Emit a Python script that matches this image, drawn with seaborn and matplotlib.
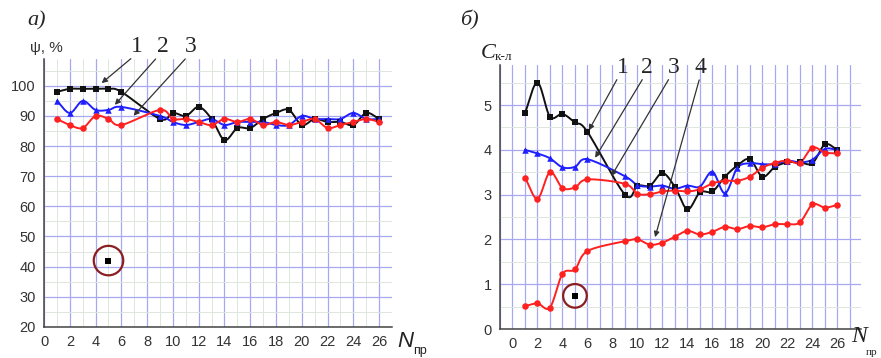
import matplotlib
matplotlib.use("Agg")
import matplotlib.pyplot as plt
import seaborn as sns
import numpy as np
from matplotlib.ticker import MultipleLocator

# ---- data (a): psi, % vs N ----
N_a = [1, 2, 3, 4, 5, 6, 9, 10, 11, 12, 13, 14, 15, 16, 17, 18, 19, 20, 21, 22, 23, 24, 25, 26]
psi_1 = [98, 99, 99, 99, 99, 98, 89, 91, 90, 93, 89, 82, 86, 86, 89, 91, 92, 87, 89, 88, 88, 87, 91, 89]
psi_2 = [95, 91, 95, 92, 92, 93, 90, 88, 87, 88, 89, 87, 88, 88, 88, 87, 87, 90, 89, 89, 89, 91, 89, 89]
psi_3 = [89, 87, 86, 90, 89, 87, 92, 89, 89, 88, 87, 89, 88, 89, 87, 88, 87, 88, 89, 86, 87, 88, 89, 88]
out_a = (5, 42)

# ---- data (b): C_k-l vs N ----
N_b = N_a
c_1 = [4.82, 5.50, 4.74, 4.80, 4.61, 4.40, 3.00, 3.20, 3.20, 3.48, 3.17, 2.67, 3.05, 3.07, 3.40, 3.65, 3.79, 3.40, 3.62, 3.72, 3.72, 3.70, 4.12, 4.00]
c_2 = [4.00, 3.92, 3.81, 3.61, 3.62, 3.79, 3.41, 3.21, 3.18, 3.20, 3.13, 3.20, 3.18, 3.51, 3.03, 3.60, 3.70, 3.68, 3.68, 3.76, 3.72, 3.78, 4.02, 4.00]
c_3 = [3.38, 2.91, 3.50, 3.15, 3.16, 3.34, 3.24, 3.02, 3.01, 3.07, 3.09, 3.07, 3.12, 3.25, 3.31, 3.31, 3.40, 3.60, 3.71, 3.76, 3.71, 4.05, 3.94, 3.92]
c_4 = [0.51, 0.57, 0.48, 1.23, 1.33, 1.74, 1.96, 2.00, 1.88, 1.93, 2.06, 2.19, 2.11, 2.17, 2.28, 2.23, 2.30, 2.27, 2.34, 2.34, 2.38, 2.78, 2.71, 2.77]
out_b = (5, 0.74)

BLACK, BLUE, RED = "#111111", "#1f1fff", "#ff2020"
MAJ, MINC = "#a8a8f2", "#dde6dd"


def smooth(x, y, n=14):
    # Catmull-Rom curve through the points, for the drawn line only
    p = np.column_stack([x, y]).astype(float)
    p = np.vstack([2 * p[0] - p[1], p, 2 * p[-1] - p[-2]])
    t = np.linspace(0, 1, n)[:, None]
    segs = []
    for i in range(1, len(p) - 2):
        p0, p1, p2, p3 = p[i - 1], p[i], p[i + 1], p[i + 2]
        c = 0.5 * ((2 * p1) + (-p0 + p2) * t + (2 * p0 - 5 * p1 + 4 * p2 - p3) * t ** 2
                   + (-p0 + 3 * p1 - 3 * p2 + p3) * t ** 3)
        segs.append(c)
    c = np.vstack(segs)
    return c[:, 0], c[:, 1]


def series(ax, x, y, color, marker, s=22):
    xs, ys = smooth(x, y)
    sns.lineplot(x=xs, y=ys, ax=ax, color=color, lw=1.4, sort=False, estimator=None)
    sns.scatterplot(x=x, y=y, ax=ax, color=color, marker=marker, s=s, linewidth=0, zorder=4)


def outlier(ax, pt, size):
    sns.scatterplot(x=[pt[0]], y=[pt[1]], ax=ax, color="black", marker="s", s=20, linewidth=0, zorder=5)
    ax.scatter([pt[0]], [pt[1]], s=size, facecolors="none", edgecolors="#8b1e1e", linewidths=1.6, zorder=5)


def style(ax):
    for sp in ["top", "right"]:
        ax.spines[sp].set_visible(False)
    for sp in ["left", "bottom"]:
        ax.spines[sp].set_color("#444444")
        ax.spines[sp].set_linewidth(1.1)
    ax.tick_params(which="major", direction="out", length=4, width=1, color="#444444",
                   labelsize=10.5, labelcolor="#333333", pad=2)
    ax.tick_params(which="minor", direction="out", length=2, width=0.8, color="#444444")
    ax.set_xlabel("")
    ax.set_ylabel("")
    ax.set_axisbelow(True)


sns.set_style("white")
plt.rcParams["font.family"] = ["Liberation Sans", "DejaVu Sans"]

fig = plt.figure(figsize=(8.81, 3.58), dpi=100)
ax1 = fig.add_axes([0.050, 0.087, 0.395, 0.749])
ax2 = fig.add_axes([0.5675, 0.081, 0.410, 0.737])

# ----- panel a -----
ax1.set_xlim(0, 27)
ax1.set_ylim(20, 109)
ax1.xaxis.set_major_locator(MultipleLocator(2))
ax1.xaxis.set_minor_locator(MultipleLocator(1))
ax1.yaxis.set_major_locator(MultipleLocator(10))
ax1.yaxis.set_minor_locator(MultipleLocator(5))
ax1.grid(which="minor", color=MINC, lw=0.7)
ax1.grid(which="major", color=MAJ, lw=0.9)
series(ax1, N_a, psi_1, BLACK, "s", s=18)
series(ax1, N_a, psi_2, BLUE, "^")
series(ax1, N_a, psi_3, RED, "o")
outlier(ax1, out_a, 450)
style(ax1)

for lab, lx, start, end in [("1", 7.2, (6.9, 109.6), (4.3, 100.3)),
                            ("2", 9.2, (8.8, 109.6), (5.35, 93.0)),
                            ("3", 11.4, (11.1, 109.6), (6.8, 89.4))]:
    ax1.text(lx, 109.6, lab, fontfamily="Liberation Serif", fontsize=17, ha="center", va="bottom", clip_on=False)
    ax1.annotate("", xy=end, xytext=start, annotation_clip=False,
                 arrowprops=dict(arrowstyle="-|>", color="#333333", lw=0.9, mutation_scale=8))

# ----- panel b -----
ax2.set_xlim(-1, 27.9)
ax2.set_ylim(0, 5.89)
ax2.xaxis.set_major_locator(MultipleLocator(2))
ax2.xaxis.set_minor_locator(MultipleLocator(1))
ax2.yaxis.set_major_locator(MultipleLocator(1))
ax2.yaxis.set_minor_locator(MultipleLocator(0.5))
ax2.grid(axis="y", which="minor", color=MINC, lw=0.7)
ax2.grid(axis="y", which="major", color=MAJ, lw=0.9)
ax2.grid(axis="x", which="both", color=MAJ, lw=0.9)
series(ax2, N_b, c_1, BLACK, "s", s=18)
series(ax2, N_b, c_2, BLUE, "^")
series(ax2, N_b, c_3, RED, "o")
series(ax2, N_b, c_4, RED, "o")
outlier(ax2, out_b, 290)
style(ax2)

for lab, lx, start, end in [("1", 8.83, (8.46, 5.62), (6.0, 4.38)),
                            ("2", 10.76, (10.5, 5.62), (6.5, 3.77)),
                            ("3", 12.9, (12.6, 5.62), (7.8, 3.36)),
                            ("4", 15.04, (15.0, 5.62), (11.35, 1.99))]:
    ax2.text(lx, 5.6, lab, fontfamily="Liberation Serif", fontsize=17, ha="center", va="bottom", clip_on=False)
    ax2.annotate("", xy=end, xytext=start, annotation_clip=False,
                 arrowprops=dict(arrowstyle="-|>", color="#333333", lw=0.9, mutation_scale=8))

# ----- texts -----
serif = "Liberation Serif"
fig.text(27 / 881, 1 - 30 / 358, "а)", fontfamily=serif, style="italic", fontsize=16, va="bottom")
fig.text(460 / 881, 1 - 30 / 358, "б)", fontfamily=serif, style="italic", fontsize=16, va="bottom")
fig.text(30 / 881, 1 - 48 / 358, "ψ, %", fontsize=11, color="#333333", va="center")
fig.text(481 / 881, 1 - 63 / 358, "C", fontfamily=serif, style="italic", fontsize=16, va="bottom", color="#222222")
fig.text(495 / 881, 1 - 63 / 358, "к-л", fontfamily=serif, fontsize=9.5, va="bottom", color="#222222")
fig.text(397 / 881, 1 - 352 / 358, "N", style="italic", fontsize=16, va="bottom", color="#222222")
fig.text(413 / 881, 1 - 357 / 358, "пр", fontsize=9, va="bottom", color="#222222")
fig.text(851 / 881, 1 - 347 / 358, "N", fontfamily=serif, style="italic", fontsize=17, va="bottom", color="#222222")
fig.text(866 / 881, 1 - 357 / 358, "пр", fontfamily=serif, fontsize=8, va="bottom", color="#222222")

fig.savefig("out.png", dpi=100)
